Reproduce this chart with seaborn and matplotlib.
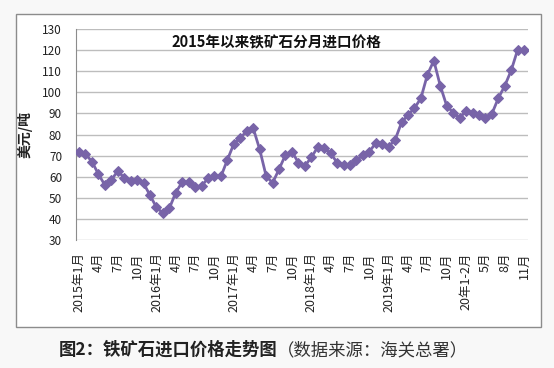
import matplotlib
matplotlib.use("Agg")
import matplotlib.pyplot as plt
import numpy as np
import pandas as pd
import seaborn as sns
from matplotlib.patches import Rectangle

# 月度进口均价（美元/吨），2015年1月 ~ 2020年11月（2020年1-2月合并）
prices = [
    71.5, 70.7, 67.2, 61.2, 56.1, 58.5, 62.6, 59.6, 58.0, 58.5, 56.9, 51.2,   # 2015
    45.5, 42.7, 45.0, 52.5, 57.5, 57.5, 55.3, 55.6, 59.3, 60.4, 60.1, 68.0,   # 2016
    75.6, 78.3, 81.7, 83.0, 73.0, 60.4, 57.0, 63.5, 70.3, 71.9, 66.7, 65.1,   # 2017
    69.1, 74.0, 73.5, 71.1, 66.7, 65.6, 65.4, 67.7, 70.3, 71.9, 75.9, 75.6,   # 2018
    74.3, 77.5, 85.7, 89.3, 92.5, 97.2, 108.3, 115.0, 103.1, 93.6, 90.4, 87.8,  # 2019
    91.2, 90.1, 89.3, 87.8, 89.8, 97.2, 103.1, 110.4, 120.2, 120.2,           # 2020
]
tick_labels = [
    "2015年1月", "4月", "7月", "10月",
    "2016年1月", "4月", "7月", "10月",
    "2017年1月", "4月", "7月", "10月",
    "2018年1月", "4月", "7月", "10月",
    "2019年1月", "4月", "7月", "10月",
    "20年1-2月", "5月", "8月", "11月",
]
y_ticks = list(range(30, 131, 10))

LINE_COLOR = "#7864a8"
CJK = ["Noto Sans CJK SC", "DejaVu Sans"]

sns.set_style("white")
plt.rcParams["font.family"] = CJK

df = pd.DataFrame({"idx": np.arange(len(prices)), "price": prices})

fig = plt.figure(figsize=(5.54, 3.68), dpi=100)
fig.patch.set_facecolor("#f8f8f8")

# 图表外框（放在底层）
fig.patches.append(Rectangle((16 / 554, 1 - 327 / 368), 525 / 554, 313 / 368,
                             transform=fig.transFigure, facecolor="white",
                             edgecolor="#8c8c8c", linewidth=1.0, zorder=-5))

ax = fig.add_axes([76 / 554, 1 - 240 / 368, 452 / 554, 211 / 368])
ax.set_zorder(5)
ax.set_facecolor("white")

sns.lineplot(data=df, x="idx", y="price", ax=ax, color=LINE_COLOR,
             linewidth=2.0, marker="D", markersize=5.5,
             markeredgecolor=LINE_COLOR, zorder=3)

ax.set_ylim(30, 130)
ax.set_yticks(y_ticks)
ax.set_xlim(-0.47, 69.6)
ax.set_xticks(np.arange(0, len(prices), 3))
ax.set_xticklabels(tick_labels, rotation=90, fontsize=9, color="#222222")
ax.tick_params(axis="y", length=0, pad=10, labelsize=8.5, labelcolor="#222222")
ax.tick_params(axis="x", length=0, pad=9)
ax.grid(True, axis="y", color="#bdbdbd", linewidth=1.0)
ax.grid(False, axis="x")
for s in ["top", "right", "bottom"]:
    ax.spines[s].set_visible(False)
ax.spines["left"].set_color("#8c8c8c")
ax.set_xlabel("")
ax.set_ylabel("")

fig.text(25 / 554, 1 - 135 / 368, "美元/吨", rotation=90, ha="center", va="center",
         fontsize=10, fontweight="bold", color="#222222")
fig.text(276 / 554, 1 - 42 / 368, "2015年以来铁矿石分月进口价格", ha="center",
         va="center", fontsize=10.5, fontweight="bold", color="#111111", zorder=10)

# 图注
fig.text(277 / 554, 1 - 350 / 368, "图2：铁矿石进口价格走势图", ha="right",
         va="center", fontsize=12.5, fontweight="bold", color="#222222")
fig.text(277 / 554, 1 - 350 / 368, "（数据来源：海关总署）", ha="left",
         va="center", fontsize=12.5, color="#333333")

fig.savefig("out.png", dpi=100, facecolor=fig.get_facecolor())
